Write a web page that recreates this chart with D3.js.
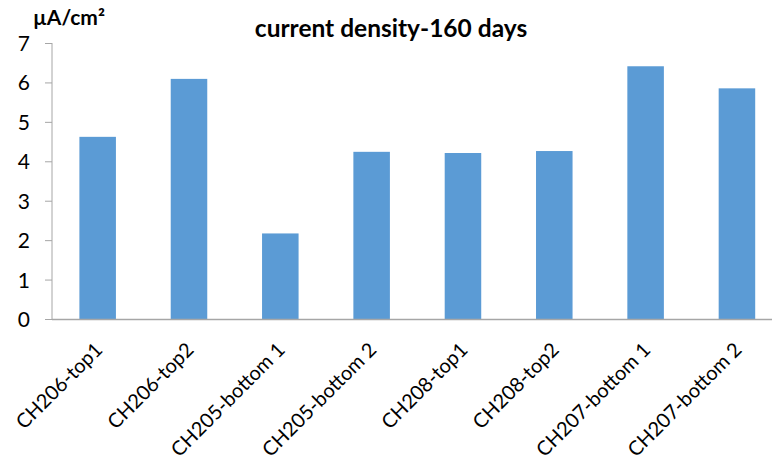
<!DOCTYPE html>
<html><head><meta charset="utf-8">
<script src="https://cdn.jsdelivr.net/npm/d3@7"></script>
<style>body{margin:0;background:#fff}svg{display:block}text{font-family:Lato,"Open Sans",sans-serif;fill:#000}</style>
</head><body>
<script>
const categories = ["CH206-top1","CH206-top2","CH205-bottom 1","CH205-bottom 2","CH208-top1","CH208-top2","CH207-bottom 1","CH207-bottom 2"];
const values = [4.62, 6.09, 2.17, 4.24, 4.21, 4.26, 6.41, 5.85];
const yTicks = [0,1,2,3,4,5,6,7];
const title = "current density-160 days";
const unitLabel = "µA/cm²";

const W = 772, H = 468;
const svg = d3.select("body").append("svg").attr("width", W).attr("height", H);
const x = d3.scaleBand().domain(categories).range([52, 782.6]).paddingInner(0.6).paddingOuter(0.3);
const y = d3.scaleLinear().domain([0,7]).range([319, 43]);

svg.selectAll("rect.bar").data(values).join("rect").attr("class","bar")
  .attr("x",(d,i)=>x(categories[i])).attr("width",x.bandwidth())
  .attr("y",d=>y(d)).attr("height",d=>y(0)-y(d)).attr("fill","#5B9BD5");

const yAxis = svg.append("g").attr("transform","translate(52,0)")
  .call(d3.axisLeft(y).tickValues(yTicks).tickSize(7).tickPadding(15).tickFormat(d3.format("d")));
yAxis.select(".domain").attr("stroke","#A6A6A6").attr("d","M0,43V319");
yAxis.selectAll(".tick line").attr("stroke","#A6A6A6");
yAxis.selectAll(".tick text").style("font-size","21px").attr("dy","0.36em");

svg.append("line").attr("x1",52).attr("x2",W).attr("y1",319.5).attr("y2",319.5).attr("stroke","#A6A6A6").attr("stroke-width",1.5);

svg.append("g").selectAll("text").data(categories).join("text")
  .attr("transform",d=>`translate(${x(d)+x.bandwidth()/2+6},${351}) rotate(-45)`)
  .attr("text-anchor","end").style("font-size","20px").text(d=>d);

svg.append("text").attr("x",391).attr("y",37).attr("text-anchor","middle")
  .style("font-size","24.5px").style("font-weight","bold").text(title);
svg.append("text").attr("x",33).attr("y",25)
  .style("font-size","21px").style("font-weight","bold").text(unitLabel);
</script>
</body></html>
